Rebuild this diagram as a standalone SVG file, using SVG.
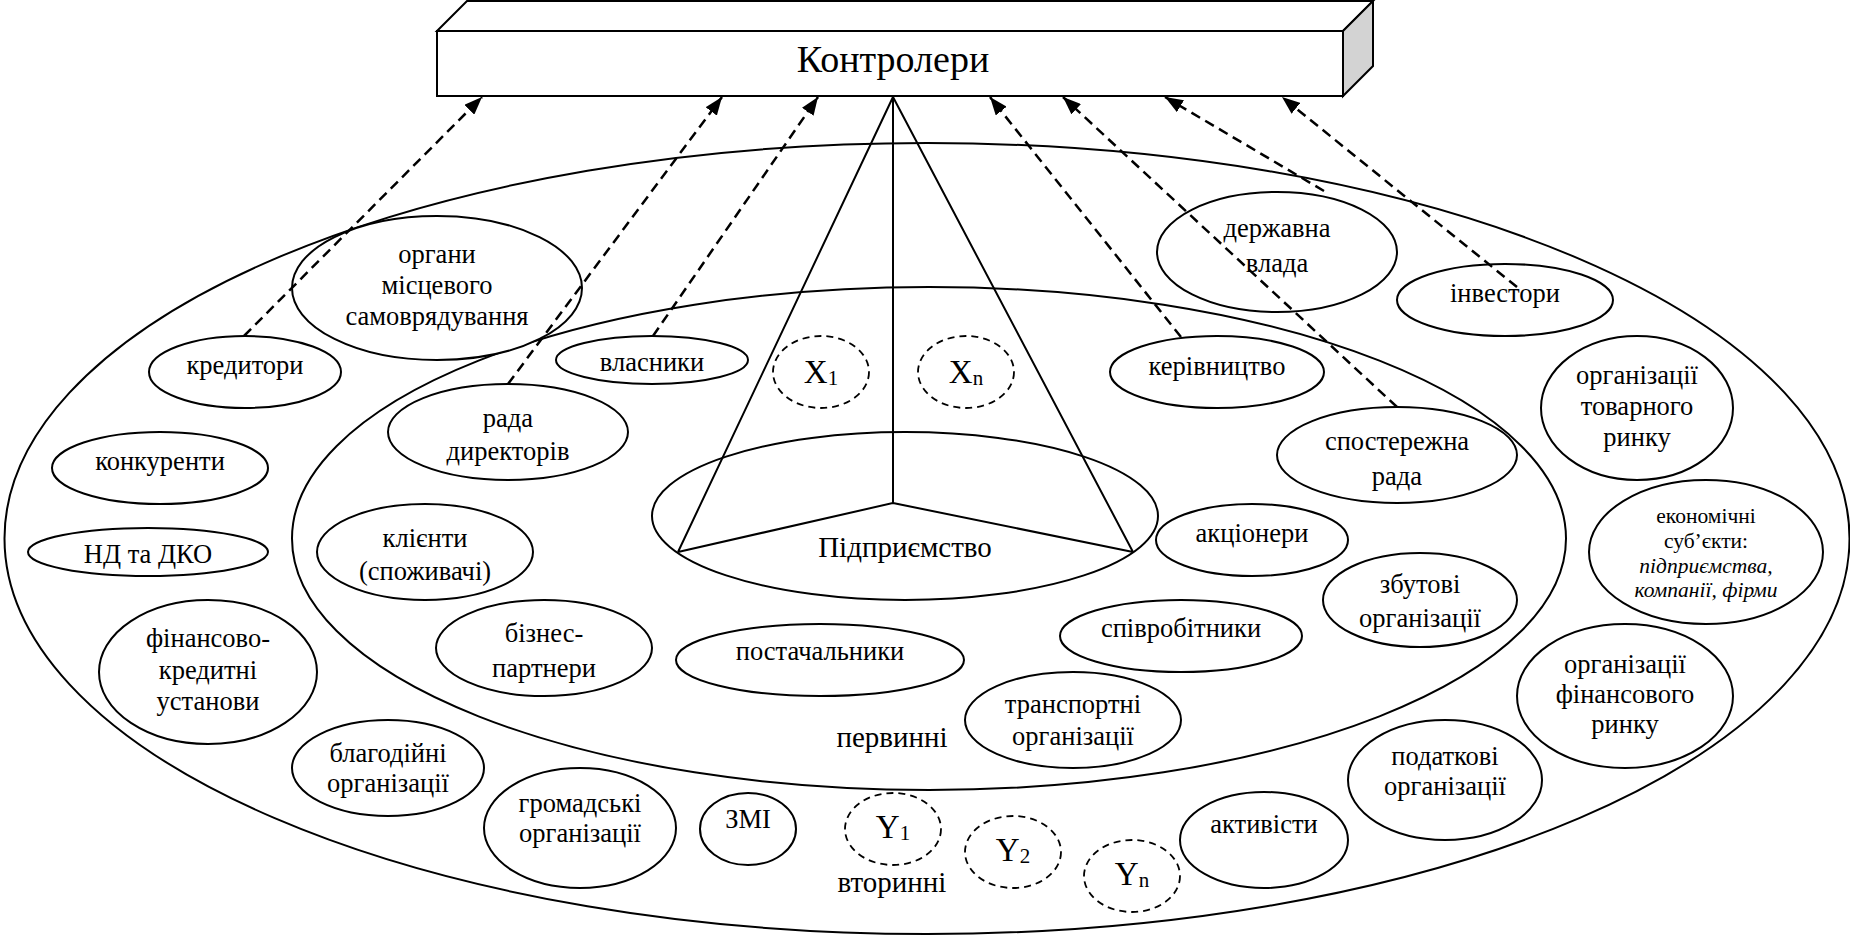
<svg xmlns="http://www.w3.org/2000/svg" width="1850" height="938" viewBox="0 0 1850 938">
<style>
text{font-family:"Liberation Serif","Times New Roman",serif;font-size:26.5px;text-anchor:middle;fill:#000}
.e{fill:#fff;stroke:#000;stroke-width:2}
.big{fill:none;stroke:#000;stroke-width:2}
.dc{fill:#fff;stroke:#000;stroke-width:1.8;stroke-dasharray:7 5}
.ln{stroke:#000;stroke-width:2;fill:none}
.ar{stroke:#000;stroke-width:2.5;stroke-dasharray:10 6;fill:none;marker-end:url(#ah)}
.lg{font-size:29px}
.sm{font-size:21.5px}
.it{font-style:italic}
.xv{font-size:33px}
.sub{font-size:21px}
</style>
<defs>
<marker id="ah" markerUnits="userSpaceOnUse" markerWidth="18" markerHeight="14" refX="18" refY="7" orient="auto"><path d="M0,0 L18,7 L0,14 z" fill="#000"/></marker>
</defs>
<rect width="1850" height="938" fill="#fff"/>

<g id="outer-ring"><ellipse class="big" cx="927" cy="538.5" rx="922.5" ry="395.5"/></g>
<g id="inner-ring"><ellipse class="big" cx="929" cy="538.5" rx="637" ry="251.5"/></g>

<g id="controllers">
<polygon points="437,31 467,1 1373,1 1343,31" fill="#fff" stroke="#000" stroke-width="2"/>
<polygon points="1343,31 1373,1 1373,66 1343,96" fill="#d3d3d3" stroke="#000" stroke-width="2"/>
<rect x="437" y="31" width="906" height="65" fill="#fff" stroke="#000" stroke-width="2"/>
<text x="893" y="72" style="font-size:38px">Контролери</text>
</g>

<g id="enterprise">
<ellipse class="e" cx="905" cy="516" rx="253" ry="84"/>
<path class="ln" d="M893,97 L678,552 M893,97 L1133,552 M893,97 L893,503 L678,552 M893,503 L1133,552"/>
<text x="905" y="557" class="lg">Підприємство</text>
</g>

<g id="x1"><ellipse class="dc" cx="821" cy="372" rx="48" ry="36"/><text x="821" y="383" class="xv">X<tspan class="sub" dy="2">1</tspan></text></g>
<g id="xn"><ellipse class="dc" cx="966" cy="372" rx="48" ry="36"/><text x="966" y="383" class="xv">X<tspan class="sub" dy="2">n</tspan></text></g>

<g id="n-organy"><ellipse class="e" cx="437" cy="288" rx="145" ry="72"/><text x="437" y="263">органи</text><text x="437" y="294">місцевого</text><text x="437" y="325">самоврядування</text></g>
<g id="n-kredytory"><ellipse class="e" cx="245" cy="372" rx="96" ry="36"/><text x="245" y="374">кредитори</text></g>
<g id="n-vlasnyky"><ellipse class="e" cx="652" cy="360" rx="96" ry="24"/><text x="652" y="371">власники</text></g>
<g id="n-rada-dyr"><ellipse class="e" cx="508" cy="432" rx="120" ry="48"/><text x="508" y="427">рада</text><text x="508" y="460">директорів</text></g>
<g id="n-konkurenty"><ellipse class="e" cx="160" cy="468" rx="108" ry="36"/><text x="160" y="470">конкуренти</text></g>
<g id="n-nd"><ellipse class="e" cx="148" cy="552" rx="120" ry="24"/><text x="148" y="563">НД та ДКО</text></g>
<g id="n-klienty"><ellipse class="e" cx="425" cy="552" rx="108" ry="48"/><text x="425" y="547">клієнти</text><text x="425" y="580">(споживачі)</text></g>
<g id="n-fin-kred"><ellipse class="e" cx="208" cy="672" rx="109" ry="72"/><text x="208" y="647">фінансово-</text><text x="208" y="679">кредитні</text><text x="208" y="710">установи</text></g>
<g id="n-biznes"><ellipse class="e" cx="544" cy="648" rx="108" ry="48"/><text x="544" y="642">бізнес-</text><text x="544" y="677">партнери</text></g>
<g id="n-blagod"><ellipse class="e" cx="388" cy="768" rx="96" ry="48"/><text x="388" y="762">благодійні</text><text x="388" y="792">організації</text></g>
<g id="n-gromad"><ellipse class="e" cx="580" cy="828" rx="96" ry="60"/><text x="580" y="812">громадські</text><text x="580" y="842">організації</text></g>
<g id="n-zmi"><ellipse class="e" cx="748" cy="829" rx="48" ry="36"/><text x="748" y="828">ЗМІ</text></g>
<g id="y1"><ellipse class="dc" cx="893" cy="829" rx="48" ry="36"/><text x="893" y="838" class="xv">Y<tspan class="sub" dy="2">1</tspan></text></g>
<g id="y2"><ellipse class="dc" cx="1013" cy="852" rx="48" ry="36"/><text x="1013" y="861" class="xv">Y<tspan class="sub" dy="2">2</tspan></text></g>
<g id="yn"><ellipse class="dc" cx="1132" cy="876" rx="48" ry="36"/><text x="1132" y="885" class="xv">Y<tspan class="sub" dy="2">n</tspan></text></g>
<g id="n-aktyv"><ellipse class="e" cx="1264" cy="840" rx="84" ry="48"/><text x="1264" y="833">активісти</text></g>
<g id="l-pervynni"><text x="892" y="747" class="lg">первинні</text></g>
<g id="l-vtorynni"><text x="892" y="892" class="lg">вторинні</text></g>
<g id="n-postach"><ellipse class="e" cx="820" cy="660" rx="144" ry="36"/><text x="820" y="660">постачальники</text></g>
<g id="n-transp"><ellipse class="e" cx="1073" cy="720" rx="108" ry="48"/><text x="1073" y="713">транспортні</text><text x="1073" y="745">організації</text></g>
<g id="n-spivrob"><ellipse class="e" cx="1181" cy="636" rx="121" ry="36"/><text x="1181" y="637">співробітники</text></g>
<g id="n-aktsion"><ellipse class="e" cx="1252" cy="540" rx="96" ry="36"/><text x="1252" y="542">акціонери</text></g>
<g id="n-zbut"><ellipse class="e" cx="1420" cy="600" rx="97" ry="47"/><text x="1420" y="593">збутові</text><text x="1420" y="627">організації</text></g>
<g id="n-sposter"><ellipse class="e" cx="1397" cy="455" rx="120" ry="48"/><text x="1397" y="450">спостережна</text><text x="1397" y="485">рада</text></g>
<g id="n-kerivn"><ellipse class="e" cx="1217" cy="372" rx="107" ry="36"/><text x="1217" y="375">керівництво</text></g>
<g id="n-derzh"><ellipse class="e" cx="1277" cy="252" rx="120" ry="60"/><text x="1277" y="237">державна</text><text x="1277" y="272">влада</text></g>
<g id="n-invest"><ellipse class="e" cx="1505" cy="300" rx="108" ry="36"/><text x="1505" y="302">інвестори</text></g>
<g id="n-tovar"><ellipse class="e" cx="1637" cy="408" rx="96" ry="72"/><text x="1637" y="384">організації</text><text x="1637" y="415">товарного</text><text x="1637" y="446">ринку</text></g>
<g id="n-ekon"><ellipse class="e" cx="1706" cy="552" rx="117" ry="72"/><text x="1706" y="523" class="sm">економічні</text><text x="1706" y="548" class="sm">суб’єкти:</text><text x="1706" y="573" class="sm it">підприємства,</text><text x="1706" y="597" class="sm it">компанії, фірми</text></g>
<g id="n-finrynok"><ellipse class="e" cx="1625" cy="696" rx="108" ry="72"/><text x="1625" y="673">організації</text><text x="1625" y="703">фінансового</text><text x="1625" y="733">ринку</text></g>
<g id="n-podatk"><ellipse class="e" cx="1445" cy="780" rx="97" ry="60"/><text x="1445" y="765">податкові</text><text x="1445" y="795">організації</text></g>

<g id="connectors">
<line class="ar" x1="244" y1="336" x2="482" y2="97"/>
<line class="ar" x1="508" y1="384" x2="722" y2="97"/>
<line class="ar" x1="653" y1="336" x2="818" y2="97"/>
<line class="ar" x1="1181" y1="337" x2="990" y2="97"/>
<line class="ar" x1="1397" y1="407" x2="1063" y2="97"/>
<line class="ar" x1="1324" y1="191" x2="1165" y2="97"/>
<line class="ar" x1="1517" y1="287" x2="1282" y2="97"/>
</g>
</svg>
